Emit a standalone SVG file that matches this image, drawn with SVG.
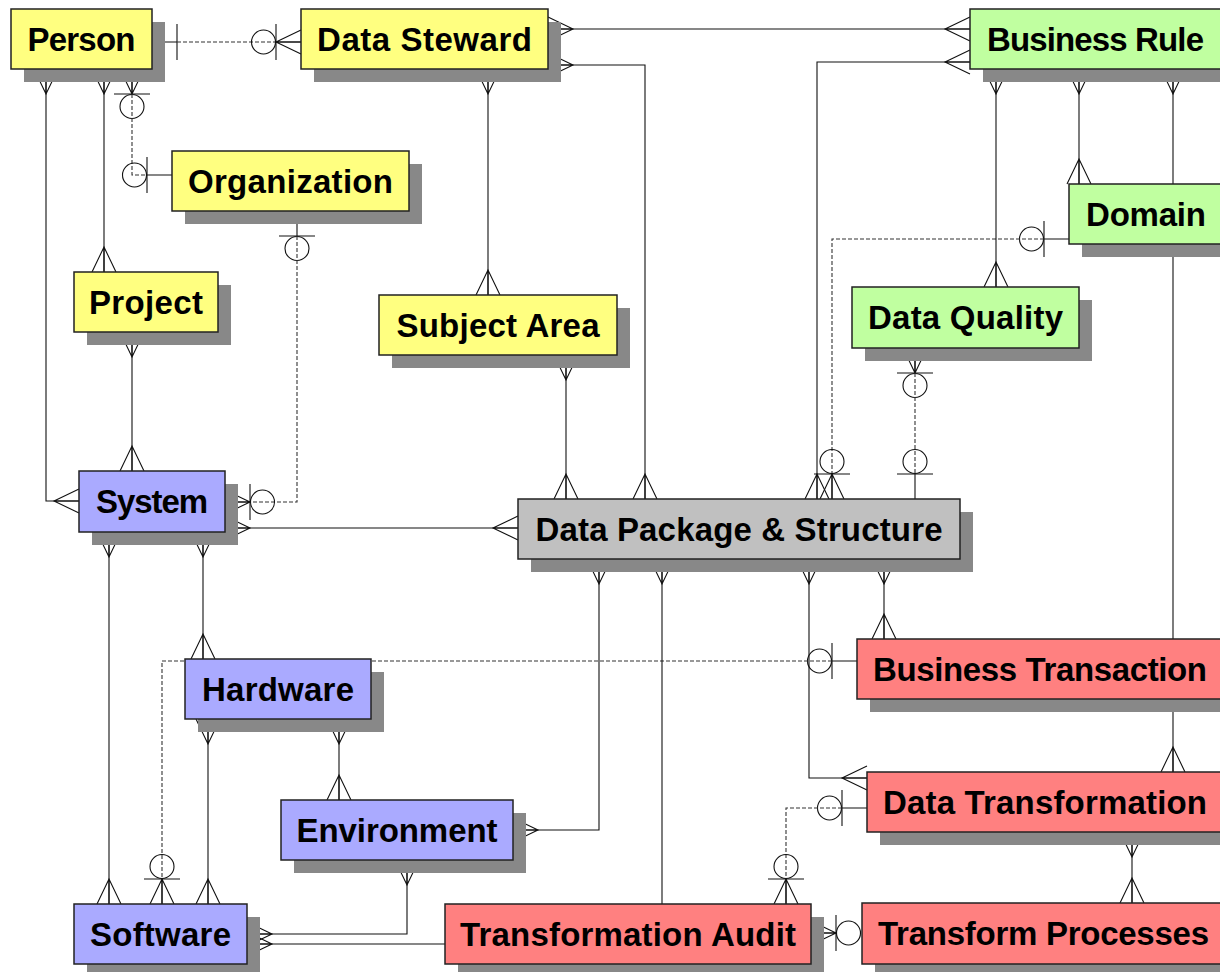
<svg xmlns="http://www.w3.org/2000/svg" width="1220" height="972" viewBox="0 0 1220 972">
<style>
.ln{fill:none;stroke:#111;stroke-width:1.1}
.ds{fill:none;stroke:#333;stroke-width:1.1;stroke-dasharray:4 2}
.sym{fill:none;stroke:#111;stroke-width:1.1}
.sh{fill:#888888}
.bx{stroke:#222;stroke-width:1.5}
.y{fill:#ffff80}.g{fill:#c0ffa0}.b{fill:#aaaaff}.r{fill:#ff8080}.k{fill:#c0c0c0}
.t{font-family:"Liberation Sans",Arial,sans-serif;font-weight:bold;font-size:33px;fill:#000}
.m{text-anchor:middle}
</style>
<defs>
<path id="crow" class="sym" d="M-12,0 L0,25 L12,0 M0,0 V25"/>
<path id="bar" class="sym" d="M0,0 V25 M-18,25 H18"/>
<circle id="circ" class="sym" cx="0" cy="37.5" r="12"/>
</defs>
<rect width="1220" height="972" fill="#fff"/>
<g id="connectors">
<!-- Person - Data Steward -->
<use href="#bar" transform="translate(152,42) rotate(-90)"/>
<path class="ds" d="M177,42 H276"/>
<use href="#crow" transform="translate(301,42) rotate(90)"/>
<use href="#bar" transform="translate(301,42) rotate(90)"/>
<use href="#circ" transform="translate(301,42) rotate(90)"/>
<!-- Person - Organization -->
<use href="#crow" transform="translate(132,69)"/>
<use href="#bar" transform="translate(132,69)"/>
<use href="#circ" transform="translate(132,69)"/>
<path class="ds" d="M132,94 V175 H147"/>
<use href="#bar" transform="translate(172,175) rotate(90)"/>
<use href="#circ" transform="translate(172,175) rotate(90)"/>
<!-- Person - Project -->
<use href="#crow" transform="translate(104,69)"/>
<path class="ln" d="M104,69 V272"/>
<use href="#crow" transform="translate(104,272) rotate(180)"/>
<!-- Person - System -->
<use href="#crow" transform="translate(46,69)"/>
<path class="ln" d="M46,69 V501 H79"/>
<use href="#crow" transform="translate(79,501) rotate(90)"/>
<!-- Data Steward - Subject Area -->
<use href="#crow" transform="translate(488,69)"/>
<path class="ln" d="M488,69 V295"/>
<use href="#crow" transform="translate(488,295) rotate(180)"/>
<!-- Data Steward - Business Rule -->
<use href="#crow" transform="translate(548,29) rotate(-90)"/>
<path class="ln" d="M548,29 H970"/>
<use href="#crow" transform="translate(970,29) rotate(90)"/>
<!-- Data Steward - Data Package -->
<use href="#crow" transform="translate(548,65) rotate(-90)"/>
<path class="ln" d="M548,65 H645 V499"/>
<use href="#crow" transform="translate(645,499) rotate(180)"/>
<!-- Business Rule - Data Package -->
<use href="#crow" transform="translate(970,62) rotate(90)"/>
<path class="ln" d="M970,62 H817 V499"/>
<use href="#crow" transform="translate(817,499) rotate(180)"/>
<!-- Domain - Data Package -->
<use href="#bar" transform="translate(1069,239) rotate(90)"/>
<use href="#circ" transform="translate(1069,239) rotate(90)"/>
<path class="ds" d="M1044,239 H832 V474"/>
<use href="#crow" transform="translate(832,499) rotate(180)"/>
<use href="#bar" transform="translate(832,499) rotate(180)"/>
<use href="#circ" transform="translate(832,499) rotate(180)"/>
<!-- Business Rule - Data Quality -->
<use href="#crow" transform="translate(996,69)"/>
<path class="ln" d="M996,69 V287"/>
<use href="#crow" transform="translate(996,287) rotate(180)"/>
<!-- Business Rule - Domain -->
<use href="#crow" transform="translate(1079,69)"/>
<path class="ln" d="M1079,69 V184"/>
<use href="#crow" transform="translate(1079,184) rotate(180)"/>
<!-- Business Rule - Data Transformation -->
<use href="#crow" transform="translate(1173,69)"/>
<path class="ln" d="M1173,69 V772"/>
<use href="#crow" transform="translate(1173,772) rotate(180)"/>
<!-- Data Quality - Data Package -->
<use href="#crow" transform="translate(915,348)"/>
<use href="#bar" transform="translate(915,348)"/>
<use href="#circ" transform="translate(915,348)"/>
<path class="ds" d="M915,373 V474"/>
<use href="#bar" transform="translate(915,499) rotate(180)"/>
<use href="#circ" transform="translate(915,499) rotate(180)"/>
<!-- Subject Area - Data Package -->
<use href="#crow" transform="translate(566,355)"/>
<path class="ln" d="M566,355 V499"/>
<use href="#crow" transform="translate(566,499) rotate(180)"/>
<!-- Project - System -->
<use href="#crow" transform="translate(132,332)"/>
<path class="ln" d="M132,332 V471"/>
<use href="#crow" transform="translate(132,471) rotate(180)"/>
<!-- Organization - System -->
<use href="#bar" transform="translate(297,211)"/>
<use href="#circ" transform="translate(297,211)"/>
<path class="ds" d="M297,236 V502 H250"/>
<use href="#crow" transform="translate(225,502) rotate(-90)"/>
<use href="#bar" transform="translate(225,502) rotate(-90)"/>
<use href="#circ" transform="translate(225,502) rotate(-90)"/>
<!-- System - Data Package -->
<use href="#crow" transform="translate(225,528) rotate(-90)"/>
<path class="ln" d="M225,528 H518"/>
<use href="#crow" transform="translate(518,528) rotate(90)"/>
<!-- System - Software -->
<use href="#crow" transform="translate(109,532)"/>
<path class="ln" d="M109,532 V904"/>
<use href="#crow" transform="translate(109,904) rotate(180)"/>
<!-- System - Hardware -->
<use href="#crow" transform="translate(203,532)"/>
<path class="ln" d="M203,532 V659"/>
<use href="#crow" transform="translate(203,659) rotate(180)"/>
<!-- Hardware - Software -->
<use href="#crow" transform="translate(208,719)"/>
<path class="ln" d="M208,719 V904"/>
<use href="#crow" transform="translate(208,904) rotate(180)"/>
<!-- Hardware - Environment -->
<use href="#crow" transform="translate(339,719)"/>
<path class="ln" d="M339,719 V800"/>
<use href="#crow" transform="translate(339,800) rotate(180)"/>
<!-- Business Transaction - Software -->
<use href="#bar" transform="translate(857,661) rotate(90)"/>
<use href="#circ" transform="translate(857,661) rotate(90)"/>
<path class="ds" d="M832,661 H162 V879"/>
<use href="#crow" transform="translate(162,904) rotate(180)"/>
<use href="#bar" transform="translate(162,904) rotate(180)"/>
<use href="#circ" transform="translate(162,904) rotate(180)"/>
<!-- Environment - Software -->
<use href="#crow" transform="translate(247,934) rotate(-90)"/>
<path class="ln" d="M247,934 H407 V860"/>
<use href="#crow" transform="translate(407,860)"/>
<!-- Transformation Audit - Software -->
<use href="#crow" transform="translate(247,944) rotate(-90)"/>
<path class="ln" d="M247,944 H445"/>
<!-- Environment - Data Package -->
<use href="#crow" transform="translate(513,830) rotate(-90)"/>
<path class="ln" d="M513,830 H599 V559"/>
<use href="#crow" transform="translate(599,559)"/>
<!-- Transformation Audit - Data Package -->
<use href="#crow" transform="translate(662,559)"/>
<path class="ln" d="M662,559 V904"/>
<!-- Data Transformation - Data Package -->
<use href="#crow" transform="translate(809,559)"/>
<path class="ln" d="M809,559 V778 H867"/>
<use href="#crow" transform="translate(867,778) rotate(90)"/>
<!-- Business Transaction - Data Package -->
<use href="#crow" transform="translate(884,559)"/>
<path class="ln" d="M884,559 V639"/>
<use href="#crow" transform="translate(884,639) rotate(180)"/>
<!-- Data Transformation - Transformation Audit -->
<use href="#bar" transform="translate(867,808) rotate(90)"/>
<use href="#circ" transform="translate(867,808) rotate(90)"/>
<path class="ds" d="M842,808 H786 V879"/>
<use href="#crow" transform="translate(786,904) rotate(180)"/>
<use href="#bar" transform="translate(786,904) rotate(180)"/>
<use href="#circ" transform="translate(786,904) rotate(180)"/>
<!-- Transform Processes - Data Transformation -->
<use href="#crow" transform="translate(1132,832)"/>
<path class="ln" d="M1132,832 V903"/>
<use href="#crow" transform="translate(1132,903) rotate(180)"/>
<!-- Transformation Audit - Transform Processes -->
<use href="#crow" transform="translate(811,933) rotate(-90)"/>
<use href="#bar" transform="translate(811,933) rotate(-90)"/>
<use href="#circ" transform="translate(811,933) rotate(-90)"/>
</g>
<g id="person"><rect class="sh" x="24" y="22" width="141" height="60"/><rect class="bx y" x="11" y="9" width="141" height="60"/><text class="t m" x="81.5" y="50.5" textLength="108">Person</text></g>
<g id="data-steward"><rect class="sh" x="314" y="22" width="247" height="60"/><rect class="bx y" x="301" y="9" width="247" height="60"/><text class="t m" x="424.5" y="50.5" textLength="215">Data Steward</text></g>
<g id="business-rule"><rect class="sh" x="983" y="22" width="260" height="60"/><rect class="bx g" x="970" y="9" width="260" height="60"/><text class="t" x="987" y="50.5" textLength="217">Business Rule</text></g>
<g id="organization"><rect class="sh" x="185" y="164" width="237" height="60"/><rect class="bx y" x="172" y="151" width="237" height="60"/><text class="t m" x="290.5" y="192.5" textLength="205">Organization</text></g>
<g id="domain"><rect class="sh" x="1082" y="197" width="160" height="60"/><rect class="bx g" x="1069" y="184" width="160" height="60"/><text class="t" x="1086" y="225.5" textLength="120">Domain</text></g>
<g id="project"><rect class="sh" x="87" y="285" width="144" height="60"/><rect class="bx y" x="74" y="272" width="144" height="60"/><text class="t m" x="146" y="313.5" textLength="114">Project</text></g>
<g id="subject-area"><rect class="sh" x="392" y="308" width="238" height="60"/><rect class="bx y" x="379" y="295" width="238" height="60"/><text class="t m" x="498" y="336.5" textLength="203">Subject Area</text></g>
<g id="data-quality"><rect class="sh" x="865" y="300" width="227" height="61"/><rect class="bx g" x="852" y="287" width="227" height="61"/><text class="t m" x="965.5" y="329" textLength="195">Data Quality</text></g>
<g id="system"><rect class="sh" x="92" y="484" width="146" height="61"/><rect class="bx b" x="79" y="471" width="146" height="61"/><text class="t m" x="152" y="513" textLength="112">System</text></g>
<g id="data-package"><rect class="sh" x="531" y="512" width="442" height="60"/><rect class="bx k" x="518" y="499" width="442" height="60"/><text class="t m" x="739" y="540.5" textLength="407">Data Package &amp; Structure</text></g>
<g id="hardware"><rect class="sh" x="198" y="672" width="186" height="60"/><rect class="bx b" x="185" y="659" width="186" height="60"/><text class="t m" x="278" y="700.5" textLength="152">Hardware</text></g>
<g id="business-transaction"><rect class="sh" x="870" y="652" width="370" height="60"/><rect class="bx r" x="857" y="639" width="370" height="60"/><text class="t" x="873" y="680.5" textLength="334">Business Transaction</text></g>
<g id="environment"><rect class="sh" x="294" y="813" width="232" height="60"/><rect class="bx b" x="281" y="800" width="232" height="60"/><text class="t m" x="397" y="841.5" textLength="201">Environment</text></g>
<g id="data-transformation"><rect class="sh" x="880" y="785" width="360" height="60"/><rect class="bx r" x="867" y="772" width="360" height="60"/><text class="t" x="883" y="813.5" textLength="324">Data Transformation</text></g>
<g id="software"><rect class="sh" x="87" y="917" width="173" height="60"/><rect class="bx b" x="74" y="904" width="173" height="60"/><text class="t m" x="160.5" y="945.5" textLength="141">Software</text></g>
<g id="transformation-audit"><rect class="sh" x="458" y="917" width="366" height="60"/><rect class="bx r" x="445" y="904" width="366" height="60"/><text class="t m" x="628" y="945.5" textLength="336">Transformation Audit</text></g>
<g id="transform-processes"><rect class="sh" x="875" y="916" width="370" height="61"/><rect class="bx r" x="862" y="903" width="370" height="61"/><text class="t" x="878" y="945" textLength="331">Transform Processes</text></g>
</svg>
